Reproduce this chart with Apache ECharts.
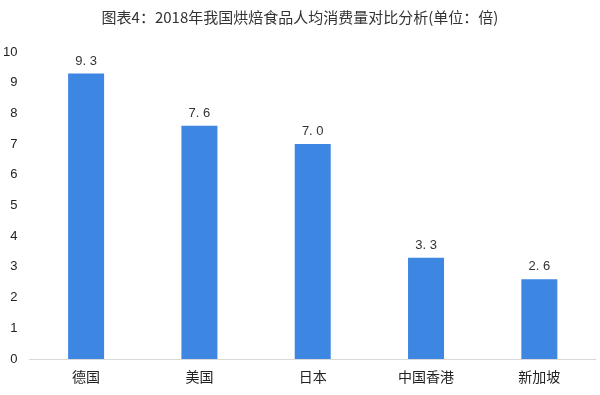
<!DOCTYPE html>
<html><head><meta charset="utf-8">
<script src="https://cdn.jsdelivr.net/npm/echarts@6/dist/echarts.min.js"></script>
<style>html,body{margin:0;padding:0;background:#fff}#c{width:600px;height:395px}</style>
</head><body><div id="c"></div>
<script>
const titleText = '图表4：2018年我国烘焙食品人均消费量对比分析(单位：倍)';
const categories = ['德国', '美国', '日本', '中国香港', '新加坡'];
const values = [9.3, 7.6, 7.0, 3.3, 2.6];
const yTicks = { min: 0, max: 10, interval: 1 };

const chart = echarts.init(document.getElementById('c'), null, { renderer: 'canvas' });
chart.setOption({
  backgroundColor: '#fff',
  animation: false,
  title: {
    text: titleText, left: 'center', top: 5,
    textStyle: { fontSize: 15, fontWeight: 'normal', color: '#333', fontFamily: 'Noto Sans CJK SC' }
  },
  grid: { left: 29, right: 4, top: 52, bottom: 36 },
  xAxis: {
    type: 'category', data: categories,
    axisLine: { lineStyle: { color: '#d9d9d9', width: 1 } },
    axisTick: { show: false },
    axisLabel: { color: '#222', fontSize: 14, margin: 11, fontFamily: 'Noto Sans CJK SC' }
  },
  yAxis: {
    type: 'value', min: yTicks.min, max: yTicks.max, interval: yTicks.interval,
    axisLine: { show: false }, axisTick: { show: false },
    splitLine: { show: false },
    axisLabel: { color: '#222', fontSize: 13, margin: 12, fontFamily: 'Liberation Sans' }
  },
  series: [{
    type: 'bar', data: values, barWidth: 36,
    itemStyle: { color: '#3d86e1' },
    label: {
      show: true, position: 'top', distance: 6, color: '#333', fontSize: 13,
      fontFamily: 'Liberation Sans',
      formatter: p => p.value.toFixed(1).replace('.', '. ')
    }
  }]
});
</script></body></html>
